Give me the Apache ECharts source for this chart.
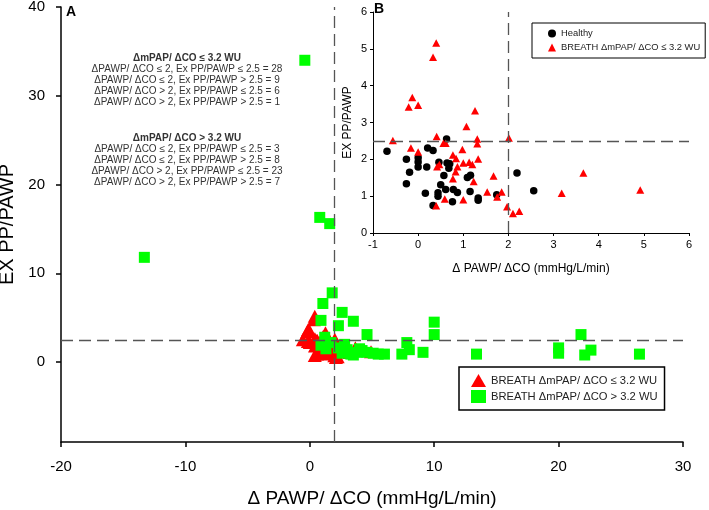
<!DOCTYPE html>
<html>
<head>
<meta charset="utf-8">
<script src="https://cdn.jsdelivr.net/npm/echarts@6/dist/echarts.min.js"></script>
<style>html,body{margin:0;padding:0;background:#fff;}#chart{width:709px;height:510px;}</style>
</head>
<body>
<div id="chart"></div>
<script>
// ---- data ----
const lowName = 'BREATH \u0394mPAP/ \u0394CO \u2264 3.2 WU';
const highName = 'BREATH \u0394mPAP/ \u0394CO > 3.2 WU';
const healthyName = 'Healthy';

const breathLowPoints = [
  [-0.56,2.51],[0.40,5.16],[0.33,4.77],[-0.13,3.68],[-0.21,3.42],[0.0,3.47],[1.26,3.32],
  [1.07,2.89],[0.41,2.62],[-0.16,2.31],[0.0,2.20],[2.01,2.58],[1.31,2.55],[1.31,2.42],
  [0.56,2.44],[0.61,2.44],[0.98,2.27],[0.77,2.12],[0.84,2.02],[1.33,2.01],[0.47,1.86],
  [0.42,1.80],[1.0,1.90],[1.13,1.92],[1.2,1.86],[0.87,1.80],[0.83,1.66],[0.77,1.47],
  [1.23,1.40],[1.67,1.55],[3.66,1.63],[1.53,1.11],[1.85,1.11],[1.75,0.98],[3.18,1.08],
  [4.92,1.17],[0.59,0.92],[1.0,0.90],[0.40,0.74],[1.97,0.71],[2.10,0.53],[2.24,0.59]
];

const breathHighPoints = [
  [-0.4,34.0],[0.8,16.3],[1.6,15.6],[-13.3,11.8],[1.8,7.8],[1.05,6.6],[0.9,4.7],[1.2,2.8],
  [2.6,5.6],[3.5,4.6],[2.3,4.1],[4.6,3.1],[10.0,4.5],[10.0,3.1],[21.8,3.1],
  [0.9,1.9],[1.3,1.5],[1.7,2.2],
  [2.3,1.6],[2.6,1.0],[3.0,1.4],[3.3,0.9],[3.8,1.1],[4.2,1.3],[4.6,1.1],[5.1,1.0],
  [5.5,0.9],[6.0,0.9],[7.4,0.9],[7.8,2.2],[8.0,1.4],[9.1,1.1],[13.4,0.9],[20.0,1.6],
  [20.0,1.0],[22.1,0.8],[22.6,1.35],[26.5,0.9],[2.8,2.0],[3.5,0.8],[4.0,1.5]
];

const healthyPoints = [
  [-0.69,2.22],[-0.26,2.0],[-0.26,1.34],[-0.19,1.65],[0,2.04],[0,1.93],[0,1.79],[0.16,1.08],
  [0.19,1.79],[0.21,2.31],[0.33,2.24],[0.33,0.75],[0.44,1.09],[0.44,1.0],[0.46,1.92],[0.5,1.31],
  [0.57,1.56],[0.61,1.18],[0.63,2.55],[0.64,1.9],[0.7,1.88],[0.68,1.76],[0.78,1.18],[0.76,0.85],
  [0.87,1.1],[1.09,1.51],[1.16,1.57],[1.15,1.13],[1.33,0.95],[1.33,0.89],[1.74,1.04],[2.19,1.63],
  [2.56,1.15]
];

const mainYTicks = [0, 10, 20, 30, 40];
const pawpCut = 2;
const ppCut = 2.5;

const annotationBlock1 = [
  '\u0394mPAP/ \u0394CO \u2264 3.2 WU',
  '\u0394PAWP/ \u0394CO \u2264 2, Ex PP/PAWP \u2264 2.5 = 28',
  '\u0394PAWP/ \u0394CO \u2264 2, Ex PP/PAWP > 2.5 = 9',
  '\u0394PAWP/ \u0394CO > 2, Ex PP/PAWP \u2264 2.5 = 6',
  '\u0394PAWP/ \u0394CO > 2, Ex PP/PAWP > 2.5 = 1'
];
const annotationBlock2 = [
  '\u0394mPAP/ \u0394CO > 3.2 WU',
  '\u0394PAWP/ \u0394CO \u2264 2, Ex PP/PAWP \u2264 2.5 = 3',
  '\u0394PAWP/ \u0394CO \u2264 2, Ex PP/PAWP > 2.5 = 8',
  '\u0394PAWP/ \u0394CO > 2, Ex PP/PAWP \u2264 2.5 = 23',
  '\u0394PAWP/ \u0394CO > 2, Ex PP/PAWP > 2.5 = 7'
];

// ---- chart ----
const FONT = 'Liberation Sans, Arial, sans-serif';
const chart = echarts.init(document.getElementById('chart'), null, {renderer: 'canvas'});

const dashLine = {color: '#555', width: 1.3, type: [12, 6]};
function cutLines(){
  return {
    silent: true, symbol: 'none', animation: false,
    label: {show: false},
    lineStyle: dashLine,
    data: [{xAxis: pawpCut}, {yAxis: ppCut}]
  };
}

const graphics = [
  {type: 'text', left: 66, top: 5, style: {text: 'A', font: 'bold 14px ' + FONT, fill: '#000'}},
  {type: 'text', left: 374, top: 2, style: {text: 'B', font: 'bold 14px ' + FONT, fill: '#000'}}
];
function addBlock(lines, y0){
  lines.forEach((t, i) => {
    graphics.push({type: 'text', x: 187, y: y0 + i * 11, style: {
      text: t, align: 'center', verticalAlign: 'middle',
      font: (i === 0 ? 'bold ' : '') + '10px ' + FONT, fill: '#333'
    }});
  });
}
addBlock(annotationBlock1, 58);
addBlock(annotationBlock2, 138);

const option = {
  animation: false,
  backgroundColor: '#fff',
  textStyle: {fontFamily: FONT},
  grid: [
    {left: 61, right: 26, top: 7, bottom: 68, outerBoundsMode: 'none', containLabel: false},
    {left: 373, right: 20, top: 12, bottom: 277, outerBoundsMode: 'none', containLabel: false}
  ],
  xAxis: [
    {
      gridIndex: 0, type: 'value', min: -20, max: 30, interval: 10,
      name: '\u0394 PAWP/ \u0394CO (mmHg/L/min)', nameLocation: 'middle', nameGap: 47,
      nameTextStyle: {fontSize: 19, color: '#000', fontFamily: FONT},
      axisLine: {onZero: false, lineStyle: {color: '#000', width: 1.5}},
      axisTick: {show: true, inside: false, length: 5, lineStyle: {color: '#000', width: 1.5}},
      axisLabel: {fontSize: 15, color: '#000', margin: 17, fontFamily: FONT},
      splitLine: {show: false}
    },
    {
      gridIndex: 1, type: 'value', min: -1, max: 6, interval: 1,
      name: '\u0394 PAWP/ \u0394CO (mmHg/L/min)', nameLocation: 'middle', nameGap: 30,
      nameTextStyle: {fontSize: 12, color: '#000', fontFamily: FONT},
      axisLine: {onZero: false, lineStyle: {color: '#000', width: 1}},
      axisTick: {show: true, length: 3, lineStyle: {color: '#000'}},
      axisLabel: {fontSize: 11, color: '#000', margin: 6, fontFamily: FONT},
      splitLine: {show: false}
    }
  ],
  yAxis: [
    {
      gridIndex: 0, type: 'value', min: -9, max: 40,
      name: 'EX PP/PAWP', nameLocation: 'middle', nameGap: 37,
      nameTextStyle: {fontSize: 20, color: '#000', fontFamily: FONT},
      axisLine: {show: true, onZero: false, lineStyle: {color: '#000', width: 1.5}},
      axisTick: {show: true, length: 5, customValues: mainYTicks, lineStyle: {color: '#000', width: 1.5}},
      axisLabel: {fontSize: 15, color: '#000', margin: 16, customValues: mainYTicks, fontFamily: FONT},
      splitLine: {show: false}
    },
    {
      gridIndex: 1, type: 'value', min: 0, max: 6, interval: 1,
      name: 'EX PP/PAWP', nameLocation: 'middle', nameGap: 19,
      nameTextStyle: {fontSize: 12, color: '#000', fontFamily: FONT},
      axisLine: {show: true, onZero: false, lineStyle: {color: '#000', width: 1}},
      axisTick: {show: true, length: 3, lineStyle: {color: '#000'}},
      axisLabel: {fontSize: 11, color: '#000', margin: 6, fontFamily: FONT},
      splitLine: {show: false}
    }
  ],
  legend: [
    {
      left: 459, top: 367, orient: 'vertical',
      data: [lowName, highName],
      itemWidth: 15, itemHeight: 13, itemGap: 3,
      padding: [7, 7, 7, 12],
      borderColor: '#000', borderWidth: 1.5,
      textStyle: {fontSize: 11.2, color: '#222', fontFamily: FONT},
      selectedMode: false
    },
    {
      left: 532, top: 23, orient: 'vertical',
      data: [
        {name: healthyName, icon: 'circle'},
        {name: lowName, icon: 'triangle'}
      ],
      itemWidth: 8, itemHeight: 8, itemGap: 5,
      padding: [6, 5, 6, 16],
      borderColor: '#000', borderWidth: 1,
      textStyle: {fontSize: 9.4, color: '#222', fontFamily: FONT},
      selectedMode: false
    }
  ],
  graphic: graphics,
  series: [
    {
      name: lowName, type: 'scatter', xAxisIndex: 0, yAxisIndex: 0,
      data: breathLowPoints, symbol: 'triangle', symbolSize: [14, 13],
      itemStyle: {color: '#ff0000', opacity: 1}, z: 2
    },
    {
      name: highName, type: 'scatter', xAxisIndex: 0, yAxisIndex: 0,
      data: breathHighPoints, symbol: 'rect', symbolSize: 11,
      itemStyle: {color: '#00ff00', opacity: 1}, z: 3,
      markLine: cutLines()
    },
    {
      name: healthyName, type: 'scatter', xAxisIndex: 1, yAxisIndex: 1,
      data: healthyPoints, symbol: 'circle', symbolSize: 7.5,
      itemStyle: {color: '#000', opacity: 1}, z: 3
    },
    {
      name: lowName, type: 'scatter', xAxisIndex: 1, yAxisIndex: 1,
      data: breathLowPoints, symbol: 'triangle', symbolSize: [8, 7.5],
      itemStyle: {color: '#ff0000', opacity: 1}, z: 4,
      markLine: cutLines()
    }
  ]
};
chart.setOption(option);
</script>
</body>
</html>
